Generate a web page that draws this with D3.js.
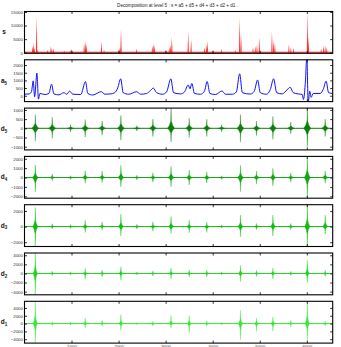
<!DOCTYPE html>
<html>
<head>
<meta charset="utf-8">
<script src="https://cdn.jsdelivr.net/npm/d3@7/dist/d3.min.js"></script>
<style>
body { margin: 0; background: #fff; }
svg { display: block; font-family: "Liberation Sans", Arial, sans-serif; }
</style>
</head>
<body>
<div id="chart"></div>
<script>
// x axis
const xDomain = [1, 6550]
const xTicks = [1000, 2000, 3000, 4000, 5000, 6000]

// s : original signal, spikes [sample, value]
const sSpikes = [[173,2500],[194,3500],[208,2000],[258,13300],[279,1000],[491,1000],[562,2400],[583,1500],
    [618,1500],[844,800],[971,1000],[1000,1400],[1268,3500],[1296,4200],[1317,3000],[1635,4100],[1692,1000],
    [2009,1500],[2031,2000],[2052,8850],[2384,1500],[2716,2500],[2737,3500],[2765,2800],[2998,1000],
    [3076,2000],[3104,3000],[3132,5900],[3479,8100],[3542,4700],[3825,2000],[3867,3000],[3888,4300],
    [3994,800],[4185,1350],[4482,1000],[4573,12700],[4602,7100],[4856,2000],[4905,2500],[4941,3000],
    [4990,5650],[5259,7700],[5294,4700],[5322,3500],[5619,3000],[5661,2000],[5718,1800],[6014,15200],
    [6035,6000],[6304,1500],[6353,2500],[6389,2800],[6424,2000]]
const sBase = 150

// a5 : approximation [sample, value]
const a5Line = [[1,100],[95,120],[148,250],[186,970],[216,-60],[265,1470],[297,-220],[328,150],[434,80],
    [519,150],[576,750],[625,120],[731,60],[837,200],[900,100],[958,300],[1028,100],[1197,80],[1297,920],
    [1346,150],[1452,50],[1636,270],[1706,100],[1833,120],[1918,200],[1981,500],[2045,1100],[2098,200],
    [2214,100],[2384,260],[2469,100],[2596,150],[2681,350],[2738,500],[2808,200],[2935,100],[3020,250],
    [3111,1100],[3168,200],[3316,120],[3401,250],[3480,700],[3518,450],[3556,800],[3613,150],[3740,100],
    [3825,300],[3882,920],[3941,150],[4058,80],[4200,310],[4270,100],[4418,100],[4503,250],[4573,1430],
    [4630,200],[4800,110],[4884,300],[4954,1030],[5011,200],[5139,100],[5224,400],[5293,1100],[5361,200],
    [5477,120],[5584,400],[5647,550],[5711,200],[5817,120],[5902,80],[5929,-240],[5965,700],[6001,2500],
    [6029,-450],[6061,300],[6092,-100],[6134,150],[6283,150],[6346,400],[6410,950],[6463,200],[6550,150]]

// details : burst centres and their upper / lower extent
const events = [230, 590, 980, 1290, 1650, 2050, 2390, 2730, 3115, 3500, 3875, 4190, 4590, 4930, 5280, 5660, 6010, 6390]
const d5Hi = [750, 600, 200, 480, 400, 700, 150, 500, 1150, 550, 500, 200, 750, 400, 650, 350, 1150, 500]
const d5Lo = [-700, -550, -200, -480, -380, -650, -150, -450, -750, -500, -450, -200, -750, -400, -600, -300, -1000, -450]
const d4Hi = [1350, 400, 200, 730, 700, 1300, 250, 500, 1200, 800, 600, 200, 1300, 700, 1000, 500, 2250, 700]
const d4Lo = [-1550, -340, -200, -600, -550, -1000, -250, -500, -1000, -800, -600, -200, -1500, -700, -900, -500, -2200, -600]
const d3Hi = [2440, 360, 250, 800, 600, 1600, 300, 600, 1300, 800, 580, 200, 1470, 400, 1470, 400, 2800, 1470]
const d3Lo = [-2530, -300, -250, -760, -430, -1200, -300, -600, -900, -800, -760, -200, -1330, -400, -1200, -400, -2550, -1000]
const d2Hi = [4500, 500, 400, 1140, 770, 1500, 300, 600, 1200, 800, 800, 300, 1800, 700, 1200, 500, 2900, 700]
const d2Lo = [-4700, -500, -400, -1300, -770, -1500, -300, -600, -1200, -800, -800, -300, -1800, -700, -1200, -500, -2050, -700]
const d1Hi = [5700, 500, 400, 1470, 860, 2320, 250, 600, 2060, 2060, 700, 300, 3440, 1460, 1720, 860, 5700, 600]
const d1Lo = [-5000, -500, -400, -1110, -690, -1720, -250, -690, -1120, -2400, -700, -300, -4130, -1980, -1980, -860, -4300, -690]

// y ranges and ticks per panel
const panelNames = ['s', 'a', 'd', 'd', 'd', 'd', 'd']
const panelSubs = ['', '5', '5', '4', '3', '2', '1']
const panelDomains = [[-220, 15180], [-380, 2340], [-1175, 1100], [-2200, 2250], [-2550, 2800], [-4700, 4500], [-5000, 5700]]
const panelTicks = [
    [0, 5000, 10000, 15000],
    [0, 500, 1000, 1500, 2000],
    [-1000, -500, 0, 500, 1000],
    [-2000, -1000, 0, 1000, 2000],
    [-2000, 0, 2000],
    [-4000, -2000, 0, 2000, 4000],
    [-4000, -2000, 0, 2000, 4000]]
const panelColors = ['#ff1010', '#1010ff', '#0d7d0d', '#12a612', '#14bb14', '#1fd41f', '#3be63b']
const detailHi = [null, null, d5Hi, d4Hi, d3Hi, d2Hi, d1Hi]
const detailLo = [null, null, d5Lo, d4Lo, d3Lo, d2Lo, d1Lo]

//layout
const width = 341
const height = 347
const left = 24.5
const right = 332.7
const top0 = 11.5
const step = 48.3
const ph = 41.8
const burstW = [0, 0, 3.6, 3, 2.6, 2.2, 2.2]

const x = d3.scaleLinear().domain(xDomain).range([left, right])
const fmt = d3.format('d')

const svg = d3.select('#chart').append('svg')
    .attr('width', width)
    .attr('height', height)

svg.append('text')
    .attr('x', 177.5)
    .attr('y', 7.4)
    .attr('text-anchor', 'middle')
    .attr('font-size', 4.6)
    .attr('fill', '#222')
    .text('Decomposition at level 5 : s = a5 + d5 + d4 + d3 + d2 + d1 .')

const styleAxis = (g) => {
    g.attr('font-size', 4.4).attr('font-family', '"Liberation Sans", Arial, sans-serif')
    g.select('.domain').remove()
    g.selectAll('line').attr('stroke', '#000').attr('stroke-width', 0.8)
    g.selectAll('text').attr('fill', '#333')
}

panelNames.forEach((name, i) => {
    const t = top0 + i * step
    const y = d3.scaleLinear().domain(panelDomains[i]).range([t + ph, t])
    const color = panelColors[i]

    svg.append('clipPath').attr('id', 'clip' + i)
        .append('rect').attr('x', left).attr('y', t).attr('width', right - left).attr('height', ph)
    const g = svg.append('g').attr('clip-path', `url(#clip${i})`)

    if (i === 0) {
        g.append('line')
            .attr('x1', left).attr('x2', right)
            .attr('y1', y(sBase)).attr('y2', y(sBase))
            .attr('stroke', color).attr('stroke-width', 1.1)
        g.selectAll('path.spike')
            .data(sSpikes)
            .enter()
            .append('path')
            .attr('fill', color)
            .attr('fill-opacity', 0.85)
            .attr('d', (d) => `M${x(d[0]) - 0.7},${y(0)}L${x(d[0])},${y(d[1])}L${x(d[0]) + 0.7},${y(0)}Z`)
    } else if (i === 1) {
        g.append('path')
            .datum(a5Line)
            .attr('fill', 'none')
            .attr('stroke', color)
            .attr('stroke-width', 1)
            .attr('d', d3.line().x((d) => x(d[0])).y((d) => y(d[1])).curve(d3.curveMonotoneX))
    } else {
        const w = burstW[i]
        g.append('line')
            .attr('x1', left).attr('x2', right)
            .attr('y1', y(0)).attr('y2', y(0))
            .attr('stroke', color).attr('stroke-width', 1)
        g.selectAll('path.burst')
            .data(events.map((n, k) => [n, detailHi[i][k], detailLo[i][k]]))
            .enter()
            .append('path')
            .attr('fill', color)
            .attr('stroke', color)
            .attr('stroke-width', 0.3)
            .attr('d', (d) => {
                const cx = x(d[0])
                const y0 = y(0)
                return `M${cx - w},${y0}` +
                    `L${cx - w * 0.45},${y(d[1] * 0.15)}L${cx - 0.35},${y(d[1] * 0.35)}L${cx},${y(d[1])}` +
                    `L${cx + 0.35},${y(d[1] * 0.35)}L${cx + w * 0.45},${y(d[1] * 0.15)}L${cx + w},${y0}` +
                    `L${cx + w * 0.45},${y(d[2] * 0.15)}L${cx + 0.35},${y(d[2] * 0.35)}L${cx},${y(d[2])}` +
                    `L${cx - 0.35},${y(d[2] * 0.35)}L${cx - w * 0.45},${y(d[2] * 0.15)}Z`
            })
    }

    // axes, ticks inside
    svg.append('g').attr('transform', `translate(${left},0)`)
        .call(d3.axisLeft(y).tickValues(panelTicks[i]).tickSize(-2.5).tickPadding(1.5).tickFormat(fmt))
        .call(styleAxis)
    svg.append('g').attr('transform', `translate(${right},0)`)
        .call(d3.axisRight(y).tickValues(panelTicks[i]).tickSize(-2.5).tickFormat(''))
        .call(styleAxis)
    svg.append('g').attr('transform', `translate(0,${t})`)
        .call(d3.axisTop(x).tickValues(xTicks).tickSize(-2.5).tickFormat(''))
        .call(styleAxis)
    svg.append('g').attr('transform', `translate(0,${t + ph})`)
        .call(d3.axisBottom(x).tickValues(xTicks).tickSize(-2.5).tickPadding(1.6)
            .tickFormat(i === panelNames.length - 1 ? fmt : ''))
        .call(styleAxis)

    svg.append('rect')
        .attr('x', left).attr('y', t)
        .attr('width', right - left).attr('height', ph)
        .attr('fill', 'none')
        .attr('stroke', '#000')
        .attr('stroke-width', 1.1)

    const label = svg.append('text')
        .attr('x', 4)
        .attr('y', t + ph / 2 + 2)
        .attr('text-anchor', 'middle')
        .attr('font-size', 6.5)
        .attr('font-weight', 'bold')
        .attr('fill', '#111')
        .text(name)
    if (panelSubs[i]) {
        label.append('tspan')
            .attr('font-size', 4.5)
            .attr('dy', 1.8)
            .text(panelSubs[i])
    }
})
</script>
</body>
</html>
